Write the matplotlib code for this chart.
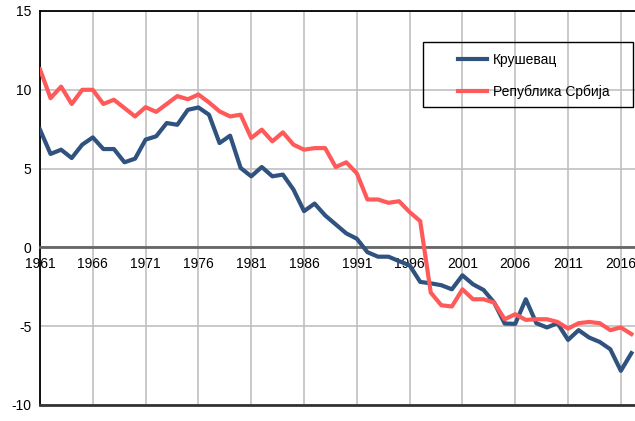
import matplotlib.pyplot as plt
from matplotlib.patches import Rectangle

plt.rcParams['font.family'] = ['Liberation Sans', 'DejaVu Sans']
plt.rcParams['axes.unicode_minus'] = False

# natural increase per 1000 inhabitants, 1961-2017
years = list(range(1961, 2018))
krusevac = [7.47, 5.93, 6.2, 5.67, 6.52, 6.98, 6.24, 6.24, 5.4, 5.63,
            6.84, 7.05, 7.89, 7.78, 8.73, 8.88, 8.42, 6.62, 7.09, 5.04,
            4.51, 5.1, 4.51, 4.62, 3.67, 2.3, 2.78, 2.03, 1.46, 0.89,
            0.55, -0.3, -0.59, -0.59, -0.87, -1.14, -2.19, -2.28, -2.4, -2.66,
            -1.77, -2.34, -2.7, -3.5, -4.83, -4.85, -3.29, -4.81, -5.08, -4.81,
            -5.87, -5.25, -5.72, -6.0, -6.46, -7.83, -6.71]
srbija = [11.3, 9.47, 10.2, 9.1, 10.0, 10.0, 9.1, 9.37, 8.84, 8.31,
          8.9, 8.6, 9.1, 9.6, 9.4, 9.7, 9.2, 8.63, 8.31, 8.42,
          6.94, 7.47, 6.73, 7.3, 6.52, 6.2, 6.3, 6.3, 5.1, 5.4,
          4.7, 3.04, 3.04, 2.83, 2.93, 2.24, 1.67, -2.87, -3.67, -3.75,
          -2.66, -3.29, -3.29, -3.5, -4.56, -4.24, -4.6, -4.56, -4.56, -4.73,
          -5.15, -4.81, -4.73, -4.81, -5.25, -5.08, -5.5]
xticks = list(range(1961, 2017, 5))
yticks = [-10, -5, 0, 5, 10, 15]

fig = plt.figure(figsize=(6.35, 4.21), dpi=100)
ax = fig.add_axes([40 / 635, 16 / 421, 595 / 635, 394 / 421])

ax.plot(years, krusevac, color='#30527F', lw=3, label='Крушевац', zorder=3)
ax.plot(years, srbija, color='#FF5A5A', lw=3, label='Република Србија', zorder=3)

ax.set_xlim(1961, 2017.34)
ax.set_ylim(-10, 15)
ax.set_xticks(xticks)
ax.set_yticks(yticks)
ax.grid(True, color='#C0C0C0', lw=1.2)
ax.set_axisbelow(True)

# x axis drawn through zero, frame line at the bottom
ax.spines['bottom'].set_position(('data', 0))
ax.spines['bottom'].set_color('#666666')
ax.spines['bottom'].set_linewidth(2)
ax.spines['right'].set_visible(False)
ax.spines['left'].set_linewidth(1.3)
ax.spines['top'].set_linewidth(1.3)
ax.axhline(-10, color='#333333', lw=2, clip_on=False, zorder=4)
ax.tick_params(length=0, labelsize=10, colors='black')
ax.tick_params(axis='x', pad=7)
ax.tick_params(axis='y', pad=6)

# legend with its own box
fig.patches.append(Rectangle((423 / 635, 1 - 107 / 421), 210 / 635, 65 / 421,
                             transform=fig.transFigure, fill=False,
                             edgecolor='black', lw=1))
ax.legend(loc='upper left', bbox_to_anchor=(451 / 635, 1 - 46 / 421),
          bbox_transform=fig.transFigure, frameon=False, fontsize=10,
          handlelength=2.1, handletextpad=0.4, labelspacing=1.25,
          borderpad=0)

fig.savefig('out.png', dpi=100)
